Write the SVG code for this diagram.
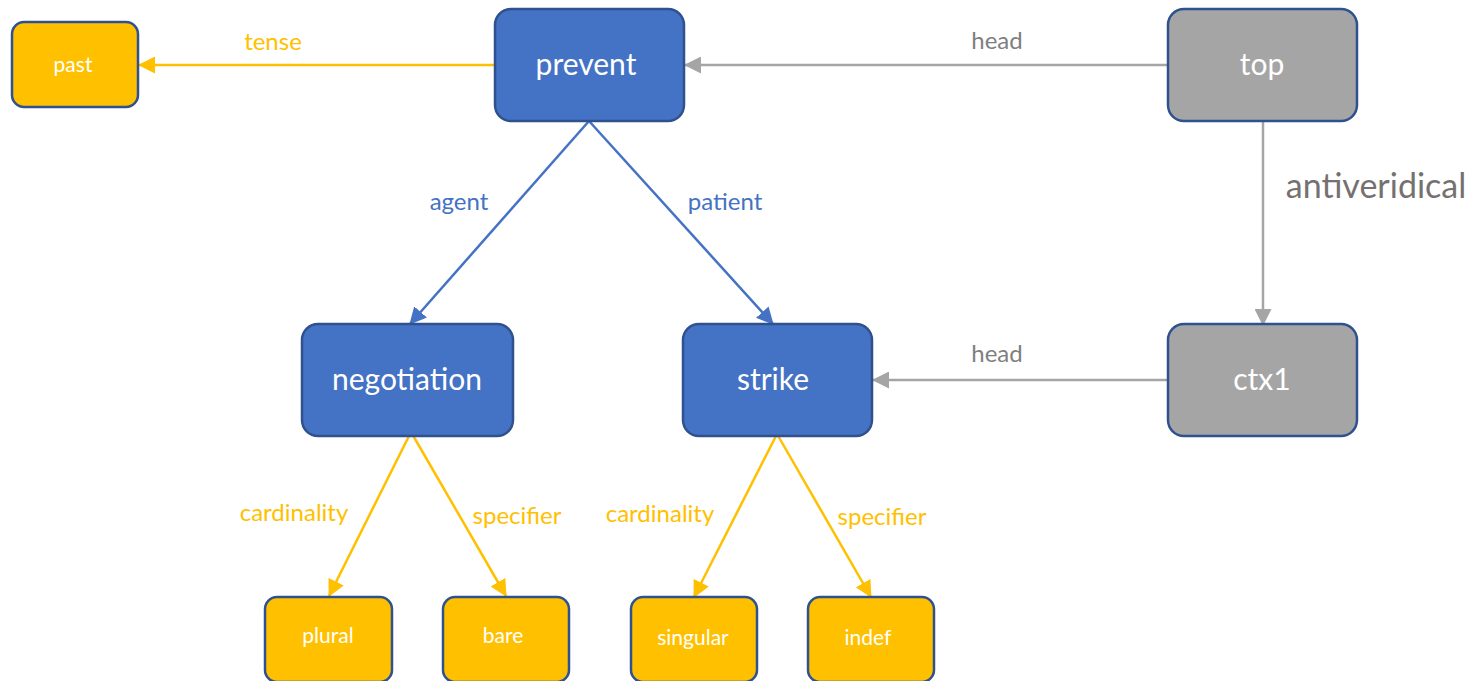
<svg xmlns="http://www.w3.org/2000/svg" width="1476" height="681" viewBox="0 0 1476 681">
<style>
.blue{fill:#4472C4;stroke:#2F528F;stroke-width:2.5}
.orange{fill:#FFC000;stroke:#2F528F;stroke-width:2.5}
.gray{fill:#A5A5A5;stroke:#2F528F;stroke-width:2.5}
.big{font-family:Lato,"Liberation Sans",sans-serif;font-size:30px;fill:#fff;text-anchor:middle;dominant-baseline:central}
.small{font-family:Lato,"Liberation Sans",sans-serif;font-size:21px;fill:#fff;text-anchor:middle;dominant-baseline:central}
.lbl{font-family:Lato,"Liberation Sans",sans-serif;font-size:24px;text-anchor:middle;dominant-baseline:central}
.eo{stroke:#FFC000;stroke-width:2.5;fill:none;marker-end:url(#ao)}
.eb{stroke:#4472C4;stroke-width:2.5;fill:none;marker-end:url(#ab)}
.eg{stroke:#A5A5A5;stroke-width:2.5;fill:none;marker-end:url(#ag)}
</style>
<defs>
<marker id="ao" markerUnits="userSpaceOnUse" markerWidth="17" markerHeight="17" refX="16" refY="8.5" orient="auto"><path d="M0,0 L17,8.5 L0,17 z" fill="#FFC000"/></marker>
<marker id="ab" markerUnits="userSpaceOnUse" markerWidth="17" markerHeight="17" refX="16" refY="8.5" orient="auto"><path d="M0,0 L17,8.5 L0,17 z" fill="#4472C4"/></marker>
<marker id="ag" markerUnits="userSpaceOnUse" markerWidth="17" markerHeight="17" refX="16" refY="8.5" orient="auto"><path d="M0,0 L17,8.5 L0,17 z" fill="#A5A5A5"/></marker>
</defs>
<g id="connectors">
<line class="eo" x1="495" y1="65" x2="139" y2="65"/>
<line class="eg" x1="1168" y1="65" x2="685" y2="65"/>
<line class="eb" x1="589" y1="121" x2="410" y2="324"/>
<line class="eb" x1="589" y1="121" x2="773" y2="324"/>
<line class="eg" x1="1263" y1="121" x2="1263" y2="325"/>
<line class="eg" x1="1168" y1="380" x2="873" y2="380"/>
<line class="eo" x1="411" y1="432" x2="329" y2="596"/>
<line class="eo" x1="411" y1="432" x2="506" y2="596"/>
<line class="eo" x1="777" y1="434" x2="694" y2="597"/>
<line class="eo" x1="777" y1="434" x2="871" y2="597"/>
<text class="lbl" x="273" y="40" fill="#FFC000">tense</text>
<text class="lbl" x="997" y="39" fill="#7F7F7F">head</text>
<text class="lbl" x="459" y="200" fill="#4472C4">agent</text>
<text class="lbl" x="725" y="200" fill="#4472C4">patient</text>
<text class="lbl" x="1376" y="184" fill="#767171" style="font-size:34px">antiveridical</text>
<text class="lbl" x="997" y="352" fill="#7F7F7F">head</text>
<text class="lbl" x="294" y="511" fill="#FFC000">cardinality</text>
<text class="lbl" x="517" y="514" fill="#FFC000">specifier</text>
<text class="lbl" x="660" y="512" fill="#FFC000">cardinality</text>
<text class="lbl" x="882" y="515" fill="#FFC000">specifier</text>
</g>
<g id="past"><rect class="orange" x="12" y="22" width="126" height="85" rx="12"/><text class="small" x="73" y="63">past</text></g>
<g id="prevent"><rect class="blue" x="495" y="9" width="189" height="112" rx="16"/><text class="big" x="586" y="63">prevent</text></g>
<g id="top"><rect class="gray" x="1168" y="9" width="189" height="112" rx="16"/><text class="big" x="1262" y="63">top</text></g>
<g id="negotiation"><rect class="blue" x="302" y="324" width="211" height="112" rx="16"/><text class="big" x="407" y="378">negotiation</text></g>
<g id="strike"><rect class="blue" x="683" y="324" width="189" height="112" rx="16"/><text class="big" x="773" y="378">strike</text></g>
<g id="ctx1"><rect class="gray" x="1168" y="324" width="189" height="112" rx="16"/><text class="big" x="1262" y="378">ctx1</text></g>
<g id="plural"><rect class="orange" x="265" y="597" width="127" height="85" rx="12"/><text class="small" x="328" y="634">plural</text></g>
<g id="bare"><rect class="orange" x="443" y="597" width="126" height="85" rx="12"/><text class="small" x="503" y="634">bare</text></g>
<g id="singular"><rect class="orange" x="631" y="597" width="126" height="85" rx="12"/><text class="small" x="693" y="636">singular</text></g>
<g id="indef"><rect class="orange" x="808" y="597" width="126" height="85" rx="12"/><text class="small" x="868" y="636">indef</text></g>
</svg>
